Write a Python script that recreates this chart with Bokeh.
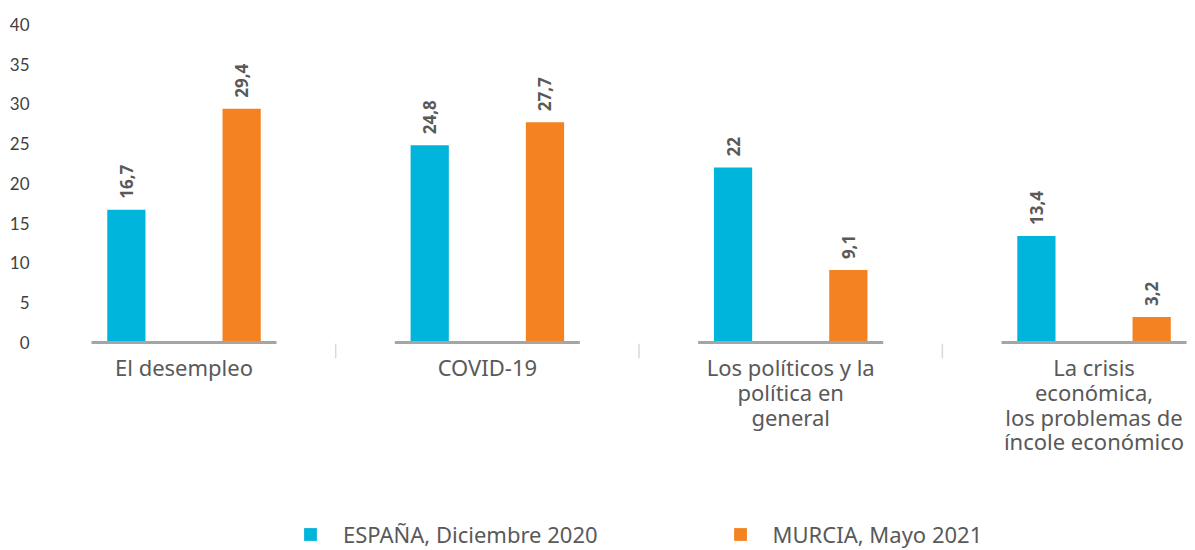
import numpy as np
from bokeh.plotting import figure
from bokeh.models import FixedTicker, Range1d, Legend, LegendItem, ColumnDataSource
from bokeh.transform import dodge
from bokeh.embed import file_html
from bokeh.resources import INLINE
from bokeh.core.properties import value

# ---- data ----
categories = [
    "El desempleo",
    "COVID-19",
    "Los políticos y la\npolítica en\ngeneral",
    "La crisis\neconómica,\nlos problemas de\níncole económico",
]
series_names = ["ESPAÑA, Diciembre 2020", "MURCIA, Mayo 2021"]
espana = [16.7, 24.8, 22, 13.4]
murcia = [29.4, 27.7, 9.1, 3.2]
y_ticks = [0, 5, 10, 15, 20, 25, 30, 35, 40]

CYAN = "#00B5DC"
ORANGE = "#F58220"
TXT = "#595959"


def fmt(v):
    return f"{v:g}".replace(".", ",")


idx = np.arange(len(categories), dtype=float)
src = ColumnDataSource(dict(
    x=idx,
    cat=categories,
    espana=espana,
    murcia=murcia,
    esp_lbl=[fmt(v) for v in espana],
    mur_lbl=[fmt(v) for v in murcia],
    base_l=idx - 0.305,
    base_r=idx + 0.305,
))
sep_src = ColumnDataSource(dict(x=idx[:-1] + 0.5))

p = figure(
    width=1190, height=550,
    x_range=Range1d(-0.4566, 3.318), y_range=Range1d(-26.17, 40.5),
    x_axis_location=None,
    output_backend="svg", toolbar_location=None,
    min_border_left=45, min_border_right=0, min_border_top=20, min_border_bottom=0,
)
p.outline_line_color = None
p.xgrid.visible = False
p.ygrid.visible = False
p.background_fill_color = "white"
p.border_fill_color = "white"

OFF = 0.19
BW = 0.126
r1 = p.vbar(x=dodge("x", -OFF), top="espana", bottom=0, width=BW, source=src,
            fill_color=CYAN, line_color=None)
r2 = p.vbar(x=dodge("x", OFF), top="murcia", bottom=0, width=BW, source=src,
            fill_color=ORANGE, line_color=None)

# baselines under each group
p.segment(x0="base_l", x1="base_r", y0=0, y1=0, source=src,
          line_color="#A5A5A5", line_width=3)
# separators between groups
p.segment(x0="x", x1="x", y0=-0.15, y1=-2, source=sep_src,
          line_color="#D9D9D9", line_width=1.5)

# value labels
for col, lbl, off in (("espana", "esp_lbl", -OFF), ("murcia", "mur_lbl", OFF)):
    p.text(x=dodge("x", off), y=col, text=lbl, source=src, angle=np.pi / 2,
           text_align="left", text_baseline="middle", y_offset=-11,
           text_font=value("Noto Sans"), text_font_style="bold",
           text_font_size="17px", text_color=TXT)

# category labels under the groups
p.text(x="x", y=-2, text="cat", source=src, text_align="center",
       text_baseline="top", y_offset=-6,
       text_font=value("Noto Sans"), text_font_size="22px",
       text_line_height=0.82, text_color=TXT)

# y axis
ya = p.yaxis[0]
ya.ticker = FixedTicker(ticks=y_ticks)
ya.axis_line_color = None
ya.major_tick_line_color = None
ya.minor_tick_line_color = None
ya.major_label_standoff = 10
ya.major_label_text_font = "Lato"
ya.major_label_text_font_size = "17px"
ya.major_label_text_color = "#3F3F3F"

legend = Legend(
    items=[LegendItem(label=series_names[0], renderers=[r1]),
           LegendItem(label=series_names[1], renderers=[r2])],
    orientation="horizontal", location=(257, 1),
    glyph_width=16, glyph_height=16, label_standoff=25, spacing=134,
    padding=0, margin=0, border_line_color=None, background_fill_alpha=0,
    label_text_font="Noto Sans", label_text_font_size="22px",
    label_text_color=TXT, label_height=16,
)
p.add_layout(legend, "center")

open("out.html", "w").write(file_html(p, INLINE))
